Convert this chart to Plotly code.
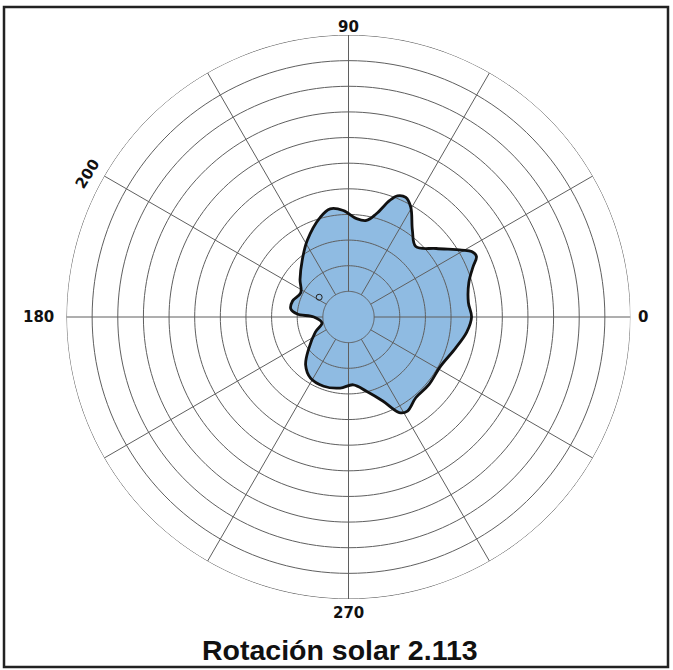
import numpy as np
import plotly.graph_objects as go

# contour of the rotation plot, angle in degrees, radius in ring units
THETA = [0, 6.9, 15.9, 22.1, 25.3, 28, 30.6, 38, 46.3, 53.6, 60.4, 64.4, 68, 70.6,
         74.9, 79.5, 85.3, 92.8, 99.6, 105.7, 118.2, 128.9, 142.3, 153, 164, 172.2,
         176.7, 180, 192.6, 204.5, 218.5, 228.2, 238.2, 250.3, 263.3, 274, 283.6,
         292.2, 298, 302.1, 309.8, 319.9, 331.6, 343.5, 352.7, 360]
R = [4.80, 4.71, 4.88, 5.25, 5.52, 5.44, 5.13, 4.34, 3.80, 4.20, 4.92, 5.17, 5.10, 4.81,
     4.17, 3.83, 3.85, 4.16, 4.28, 4.05, 3.40, 2.87, 2.39, 2.09, 2.27, 2.27,
     2.00, 1.35, 1.06, 1.42, 1.98, 2.51, 2.81, 2.87, 2.79, 2.65, 2.98,
     3.54, 4.22, 4.33, 4.10, 4.10, 4.07, 4.34, 4.65, 4.80]

# small closed contour left of centre
ISLAND_THETA = [146]
ISLAND_R = [1.38]

RINGS = list(range(1, 12))
SPOKES = list(range(0, 360, 30))
LABEL_ANGLES = [0, 90, 151.3, 180, 270]
LABEL_TEXT = ["0", "90", "200", "180", "270"]
TITLE = "Rotación solar 2.113"

W, H = 673, 670
CX, CY, RAD = 348.5, 317, 282

GRID = "#5f5f5f"
FILL = "#8fbbe2"
INK = "#111111"

fig = go.Figure()

fig.add_trace(go.Scatterpolar(
    r=R, theta=THETA, mode="lines", fill="toself", fillcolor=FILL,
    line=dict(color="rgba(0,0,0,0)", width=0, shape="spline"),
    hoverinfo="skip", showlegend=False,
))

ring_theta = np.arange(0, 361, 2)
for k in RINGS:
    fig.add_trace(go.Scatterpolar(
        r=[k] * len(ring_theta), theta=ring_theta, mode="lines",
        line=dict(color=GRID, width=1), hoverinfo="skip", showlegend=False,
    ))
for a in SPOKES:
    fig.add_trace(go.Scatterpolar(
        r=[RINGS[0], RINGS[-1]], theta=[a, a], mode="lines",
        line=dict(color=GRID, width=1), hoverinfo="skip", showlegend=False,
    ))

fig.add_trace(go.Scatterpolar(
    r=R, theta=THETA, mode="lines",
    line=dict(color=INK, width=2.8, shape="spline"),
    hoverinfo="skip", showlegend=False,
))
fig.add_trace(go.Scatterpolar(
    r=ISLAND_R, theta=ISLAND_THETA, mode="markers",
    marker=dict(symbol="circle-open", size=6, color="#222222", line=dict(width=1)),
    hoverinfo="skip", showlegend=False,
))

# angle labels placed just outside the outer ring
label_font = dict(family="DejaVu Sans", size=15, color=INK, weight="bold")
pads = {0: 5, 90: 8, 151.3: 15.6, 180: 10, 270: 14}
xanchors = {0: "left", 90: "center", 151.3: "center", 180: "right", 270: "center"}
annotations = []
for txt, ang in zip(LABEL_TEXT, LABEL_ANGLES):
    d = RAD + pads[ang]
    px_ = CX + d * np.cos(np.radians(ang))
    py_ = CY - d * np.sin(np.radians(ang))
    annotations.append(dict(
        text=txt, x=px_ / W, y=1 - py_ / H, xref="paper", yref="paper",
        xanchor=xanchors[ang], yanchor="middle", showarrow=False, font=label_font,
        textangle=-58 if txt == "200" else 0,
    ))
annotations.append(dict(
    text="<b>" + TITLE + "</b>", x=340 / W, y=1 - 650 / H,
    xref="paper", yref="paper", xanchor="center", yanchor="middle", showarrow=False,
    font=dict(family="Liberation Sans", size=28.5, color=INK),
))

fig.update_layout(
    width=W, height=H,
    margin=dict(l=0, r=0, t=0, b=0),
    paper_bgcolor="white",
    showlegend=False,
    polar=dict(
        domain=dict(x=[(CX - RAD) / W, (CX + RAD) / W],
                    y=[(H - CY - RAD) / H, (H - CY + RAD) / H]),
        bgcolor="white",
        radialaxis=dict(range=[0, RINGS[-1]], visible=False, showgrid=False),
        angularaxis=dict(rotation=0, direction="counterclockwise",
                         showgrid=False, showline=False, showticklabels=False, ticks=""),
    ),
    annotations=annotations,
    shapes=[
        dict(type="rect", xref="paper", yref="paper",
             x0=4 / W, x1=668 / W, y0=1 - 667 / H, y1=1 - 7 / H,
             line=dict(color="#222222", width=2.5)),
    ],
)

fig.write_html("out.html", config={"displayModeBar": False},
               post_script="document.body.style.margin='0';")
